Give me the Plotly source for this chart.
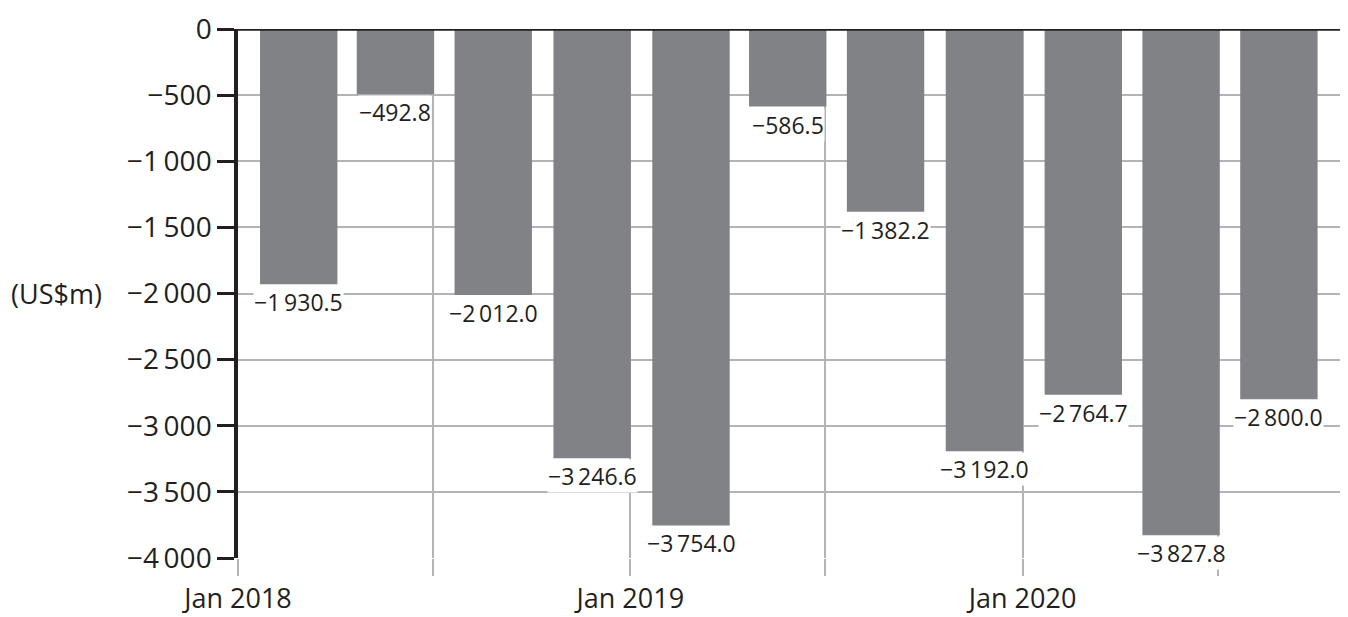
import pandas as pd
import plotly.graph_objects as go

quarters = ["2018-01-01", "2018-04-01", "2018-07-01", "2018-10-01",
            "2019-01-01", "2019-04-01", "2019-07-01", "2019-10-01",
            "2020-01-01", "2020-04-01", "2020-07-01"]
values = [-1930.5, -492.8, -2012.0, -3246.6, -3754.0, -586.5,
          -1382.2, -3192.0, -2764.7, -3827.8, -2800.0]
labels = ["−1\u2009930.5", "−492.8", "−2\u2009012.0", "−3\u2009246.6", "−3\u2009754.0", "−586.5",
          "−1\u2009382.2", "−3\u2009192.0", "−2\u2009764.7", "−3\u2009827.8", "−2\u2009800.0"]

y_ticks = [0, -500, -1000, -1500, -2000, -2500, -3000, -3500, -4000]
y_ticktext = ["0", "−500", "−1\u2009000", "−1\u2009500", "−2\u2009000", "−2\u2009500",
              "−3\u2009000", "−3\u2009500", "−4\u2009000"]
x_ticks = ["2018-01-01", "2018-07-01", "2019-01-01", "2019-07-01", "2020-01-01", "2020-07-01"]
x_ticktext = ["Jan 2018", "", "Jan 2019", "", "Jan 2020", ""]

DAY = 86400000
bar_offset_days = 20.5
bar_width_days = 72

FONT = "Open Sans"
TXT = "#231f20"
GRID = "#b4b4b6"

fig = go.Figure()
fig.add_trace(go.Bar(
    x=quarters, y=values,
    width=[bar_width_days * DAY] * len(values),
    offset=bar_offset_days * DAY,
    marker=dict(color="#818286", line=dict(width=0)),
    hoverinfo="skip",
))

for q, v, t in zip(quarters, values, labels):
    center = pd.Timestamp(q) + pd.Timedelta(days=bar_offset_days + bar_width_days / 2)
    fig.add_annotation(
        x=center.strftime("%Y-%m-%d %H:%M"), y=v, text=t, showarrow=False,
        yanchor="top", xanchor="center", yshift=-1,
        bgcolor="white", borderpad=0,
        font=dict(family=FONT, size=23, color=TXT),
    )

fig.add_annotation(
    xref="paper", yref="y", x=-0.207, y=-2000, text="(US$m)", showarrow=False,
    xanchor="left", yanchor="middle", font=dict(family=FONT, size=27, color=TXT),
)

fig.add_shape(type="line", xref="paper", yref="y", x0=0, x1=1, y0=0, y1=0,
              line=dict(color="#231f20", width=3.5), layer="above")

fig.update_layout(
    width=1340, height=609,
    margin=dict(l=230, r=3, t=21, b=59, autoexpand=False),
    plot_bgcolor="white", paper_bgcolor="white",
    showlegend=False,
    font=dict(family=FONT, size=28, color=TXT),
    xaxis=dict(
        type="date", range=["2018-01-01", "2020-10-27"],
        tickvals=x_ticks, ticktext=x_ticktext,
        showgrid=True, gridcolor=GRID, gridwidth=2,
        ticks="outside", ticklen=17, tickwidth=2, tickcolor=GRID,
        showline=False, zeroline=False, automargin=False,
        tickfont=dict(family=FONT, size=27, color=TXT),
    ),
    yaxis=dict(
        range=[-4000, 0],
        tickvals=y_ticks, ticktext=y_ticktext,
        showgrid=True, gridcolor=GRID, gridwidth=2,
        ticks="outside", ticklen=17, tickwidth=2.5, tickcolor=TXT,
        showline=True, linecolor=TXT, linewidth=3.5,
        zeroline=False, automargin=False,
        tickfont=dict(family=FONT, size=28, color=TXT),
    ),
)

fig.write_html("out.html")
